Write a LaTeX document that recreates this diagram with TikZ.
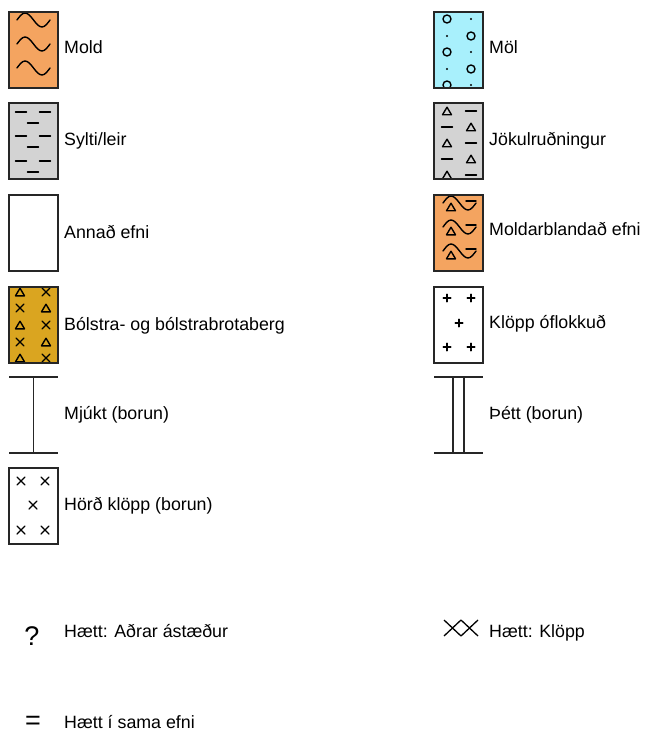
\documentclass[tikz,border=0pt]{standalone}
\usepackage{fontspec}
\setmainfont{Liberation Sans}
\usetikzlibrary{math}
\definecolor{moldorange}{HTML}{F4A460}
\definecolor{siltgrey}{HTML}{D3D3D3}
\definecolor{gravelcyan}{HTML}{A8F0FC}
\definecolor{pillowgold}{HTML}{DAA520}
\tikzset{
  swatch/.style={draw=black!85,line width=1.6pt},
  sym/.style={line width=1.4pt,line cap=round,line join=round},
  lbl/.style={anchor=base west,inner sep=0pt,font=\fontsize{17.8}{21}\selectfont},
  big/.style={anchor=base,inner sep=0pt,font=\fontsize{27}{30}\selectfont},
  pics/trisym/.style={code={\draw[sym] (-4.5,3.8)--(0,-3.8)--(4.5,3.8)--cycle;}},
  pics/crosssym/.style={code={\draw[sym] (-4,-4)--(4,4) (-4,4)--(4,-4);}},
  pics/plussym/.style={code={\draw[sym] (-3.8,0)--(3.8,0) (0,-3.8)--(0,3.8);}},
  pics/barsym/.style={code={\draw[sym] (-5.5,0)--(5.5,0);}},
  pics/wavesym/.style={code={\draw[sym] (-16.5,0) sin ++(8,-7) cos ++(8.5,7) sin ++(8.5,7) cos ++(8,-7);}},
}
\begin{document}
\begin{tikzpicture}[x=1pt,y=-1pt]
\tikzmath{
\bw=49; \bh=76;
\xl=9; \xr=434;
\tl=64; \tr=489;
}
\useasboundingbox (0,0) rectangle (649,735);

% left column
\begin{scope}
\clip (\xl,12) rectangle ++(\bw,\bh);
\fill[moldorange] (\xl,12) rectangle ++(\bw,\bh);
\foreach \c in {20,44,68} \pic at (33.5,\c) {wavesym};
\end{scope}
\draw[swatch] (\xl,12) rectangle ++(\bw,\bh);
\node[lbl] (mold) at (\tl,53.5) {Mold};

\begin{scope}
\clip (\xl,103) rectangle ++(\bw,\bh);
\fill[siltgrey] (\xl,103) rectangle ++(\bw,\bh);
\foreach \y in {112,136,161} {\pic at (21,\y) {barsym}; \pic at (45,\y) {barsym};}
\foreach \y in {123,147,172} \pic at (33,\y) {barsym};
\end{scope}
\draw[swatch] (\xl,103) rectangle ++(\bw,\bh);
\node[lbl] (silt) at (\tl,145.5) {Sylti/leir};

\draw[swatch] (\xl,195) rectangle ++(\bw,\bh);
\node[lbl] (other) at (\tl,238.5) {Annað efni};

\begin{scope}
\clip (\xl,287) rectangle ++(\bw,\bh);
\fill[pillowgold] (\xl,287) rectangle ++(\bw,\bh);
\foreach \y in {292,325,358} {\pic at (20,\y) {trisym}; \pic at (46,\y) {crosssym};}
\foreach \y in {308,342} {\pic at (20,\y) {crosssym}; \pic at (46,\y) {trisym};}
\end{scope}
\draw[swatch] (\xl,287) rectangle ++(\bw,\bh);
\node[lbl] (pillow) at (\tl,330) {Bólstra- og bólstrabrotaberg};

\draw[swatch] (\xl,377) --++(\bw,0) (\xl,453) --++(\bw,0) (33.5,377) -- (33.5,453);
\node[lbl] (soft) at (\tl,419) {Mjúkt (borun)};

\draw[swatch] (\xl,468) rectangle ++(\bw,\bh);
\foreach \p in {(21,481),(45,481),(33,505),(21,530),(45,530)} \pic at \p {crosssym};
\node[lbl] (hardrock) at (\tl,510) {Hörð klöpp (borun)};

% right column
\begin{scope}
\clip (\xr,12) rectangle ++(\bw,\bh);
\fill[gravelcyan] (\xr,12) rectangle ++(\bw,\bh);
\foreach \y in {19,52,85} {\draw[sym] (447,\y) circle (4); \fill (471,\y) circle (1.2);}
\foreach \y in {36,69} {\fill (447,\y) circle (1.2); \draw[sym] (471,\y) circle (4);}
\end{scope}
\draw[swatch] (\xr,12) rectangle ++(\bw,\bh);
\node[lbl] (gravel) at (\tr,54) {Möl};

\begin{scope}
\clip (\xr,103) rectangle ++(\bw,\bh);
\fill[siltgrey] (\xr,103) rectangle ++(\bw,\bh);
\foreach \y in {111,143,175} {\pic at (447,\y) {trisym}; \pic at (471,\y) {barsym};}
\foreach \y in {127,159} {\pic at (447,\y) {barsym}; \pic at (471,\y) {trisym};}
\end{scope}
\draw[swatch] (\xr,103) rectangle ++(\bw,\bh);
\node[lbl] (till) at (\tr,146) {Jökulruðningur};

\begin{scope}
\clip (\xr,195) rectangle ++(\bw,\bh);
\fill[moldorange] (\xr,195) rectangle ++(\bw,\bh);
\foreach \c in {203,227,251} {
  \pic at (459.5,\c) {wavesym};
  \pic at (451,\c+4) {trisym};
  \draw[sym] (466,\c-2) -- (476,\c-2);
}
\end{scope}
\draw[swatch] (\xr,195) rectangle ++(\bw,\bh);
\node[lbl] (soilmix) at (\tr,235) {Moldarblandað efni};

\draw[swatch] (\xr,287) rectangle ++(\bw,\bh);
\foreach \p in {(447,298),(471,298),(459,323),(447,347),(471,347)} \pic at \p {plussym};
\node[lbl] (rock) at (\tr,328) {Klöpp óflokkuð};

\draw[swatch] (\xr,377) --++(\bw,0) (\xr,453) --++(\bw,0) (453,377) -- (453,453) (464,377) -- (464,453);
\node[lbl] (dense) at (\tr,419) {Þétt (borun)};

% stop symbols
\node[big] (qmark) at (32,645) {?};
\node[lbl] (stopother) at (\tl,637) {Hætt: Aðrar ástæður};

\draw[line width=1.3pt] (444,620) -- (461,636) (444,636) -- (461,620)
  (461,620) -- (478,636) (461,636) -- (478,620);
\node[lbl] (stoprock) at (\tr,637) {Hætt: Klöpp};

\node[big] (eqmark) at (33,729) {=};
\node[lbl] (stopsame) at (\tl,728) {Hætt í sama efni};
\end{tikzpicture}
\end{document}
